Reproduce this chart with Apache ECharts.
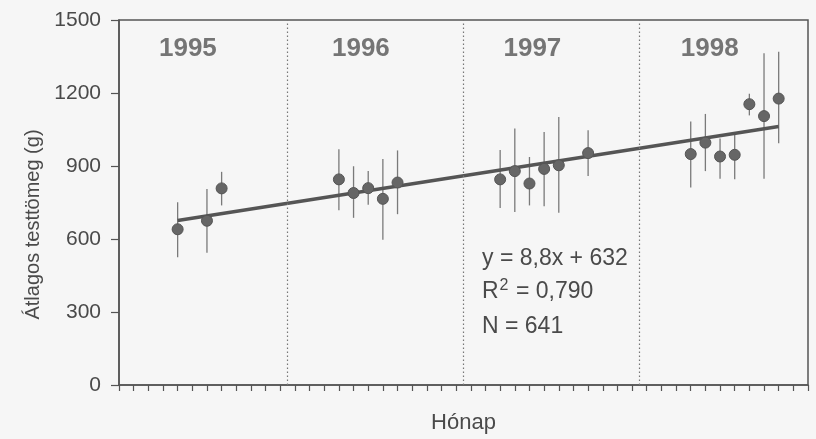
<!DOCTYPE html>
<html>
<head>
<meta charset="utf-8">
<script src="https://cdn.jsdelivr.net/npm/echarts@6/dist/echarts.min.js"></script>
<style>
html,body{margin:0;padding:0;background:#f6f6f6;}
#chart{width:816px;height:439px;}
</style>
</head>
<body>
<div id="chart"></div>
<script>
// Month index (0 = January 1995)
const months = [4, 6, 7, 15, 16, 17, 18, 19, 26, 27, 28, 29, 30, 32, 39, 40, 41, 42, 43, 44, 45];
const means  = [640, 675, 808, 845, 789, 809, 765, 832, 845, 879, 828, 888, 903, 953, 949, 996, 939, 946, 1154, 1105, 1177];
const highs  = [751, 805, 876, 969, 899, 879, 929, 964, 966, 1054, 937, 1040, 1101, 1047, 1083, 1114, 1013, 1040, 1197, 1363, 1370];
const lows   = [525, 543, 738, 718, 687, 741, 597, 702, 727, 711, 738, 735, 708, 859, 812, 879, 848, 846, 1108, 848, 993];
const trendX = [4, 45];
const trendY = [676, 1062];
const yearBreaks = [11.5, 23.5, 35.5];
const years = ['1995', '1996', '1997', '1998'];
const yearLabelX = [4.7, 16.5, 28.2, 40.3];
const yearLabelY = 1382;
const yTicks = [0, 300, 600, 900, 1200, 1500];
const statLines = ['y = 8,8x + 632', 'R^2 = 0,790', 'N = 641'];

const FONT = '"Liberation Sans", Arial, Helvetica, sans-serif';
const TXT = '#4a4a4a';

const chart = echarts.init(document.getElementById('chart'), null, {renderer: 'canvas'});

const errData = months.map((m, i) => [m, lows[i], highs[i]]);
const ptData = months.map((m, i) => [m, means[i]]);
const trendData = trendX.map((x, i) => [x, trendY[i]]);
const yearData = years.map((y, i) => ({value: [yearLabelX[i], yearLabelY], name: y}));

const option = {
  backgroundColor: '#f6f6f6',
  animation: false,
  grid: {left: 119, right: 8, top: 20, bottom: 46, show: true, borderColor: '#555', borderWidth: 1.5, backgroundColor: 'transparent'},
  xAxis: {
    type: 'value', min: 0, max: 47, interval: 1,
    name: 'Hónap', nameLocation: 'middle', nameGap: 27,
    nameTextStyle: {fontFamily: FONT, fontSize: 22, color: TXT},
    axisLine: {show: true, lineStyle: {color: '#555', width: 1.5}},
    axisTick: {show: true, length: 6, lineStyle: {color: '#555', width: 1.2}},
    axisLabel: {show: false},
    splitLine: {show: false}
  },
  yAxis: {
    type: 'value', min: yTicks[0], max: yTicks[yTicks.length - 1], interval: 300,
    name: 'Átlagos testtömeg (g)', nameLocation: 'middle', nameGap: 76,
    nameTextStyle: {fontFamily: FONT, fontSize: 20, color: TXT, padding: [0, 44, 0, 0]},
    axisLine: {show: true, lineStyle: {color: '#555', width: 1.5}},
    axisTick: {show: true, length: 8, lineStyle: {color: '#555', width: 1.2}},
    axisLabel: {fontFamily: FONT, fontSize: 21, color: TXT, margin: 18, formatter: v => String(v)},
    splitLine: {show: false}
  },
  series: [
    {
      type: 'line', data: [], silent: true,
      markLine: {
        silent: true, symbol: 'none', label: {show: false},
        lineStyle: {type: [1.5, 2.5], color: '#777', width: 1.2},
        data: yearBreaks.map(x => ({xAxis: x}))
      }
    },
    {
      type: 'custom', data: errData, silent: true, z: 2,
      renderItem: function (params, api) {
        const p1 = api.coord([api.value(0), api.value(1)]);
        const p2 = api.coord([api.value(0), api.value(2)]);
        return {type: 'line', shape: {x1: p1[0], y1: p1[1], x2: p2[0], y2: p2[1]},
                style: {stroke: '#7a7a7a', lineWidth: 1.3}};
      }
    },
    {
      type: 'line', data: trendData, symbol: 'none', z: 3,
      lineStyle: {color: '#555', width: 3.5}
    },
    {
      type: 'scatter', data: ptData, symbol: 'circle', symbolSize: 11, z: 4,
      itemStyle: {color: '#666', borderColor: '#555', borderWidth: 1, opacity: 1}
    },
    {
      type: 'scatter', data: yearData, symbolSize: 0, z: 5,
      label: {show: true, position: 'inside', formatter: '{b}', fontFamily: FONT, fontSize: 26, fontWeight: 'bold', color: '#555'}
    }
  ],
  graphic: [
    {type: 'text', left: 482, top: 247, style: {text: statLines[0], font: '23px ' + FONT, fill: TXT}},
    {type: 'text', left: 482, top: 278, style: {
      text: '{a|R}{s|2}{a| = 0,790}', font: '23px ' + FONT, fill: TXT,
      rich: {a: {fontSize: 23, fontFamily: FONT, color: TXT, lineHeight: 28}, s: {fontSize: 16, fontFamily: FONT, color: TXT, verticalAlign: 'top', lineHeight: 16, padding: [0, 1, 0, 1]}}
    }},
    {type: 'text', left: 482, top: 315, style: {text: statLines[2], font: '23px ' + FONT, fill: TXT}}
  ]
};
chart.setOption(option);
</script>
</body>
</html>
